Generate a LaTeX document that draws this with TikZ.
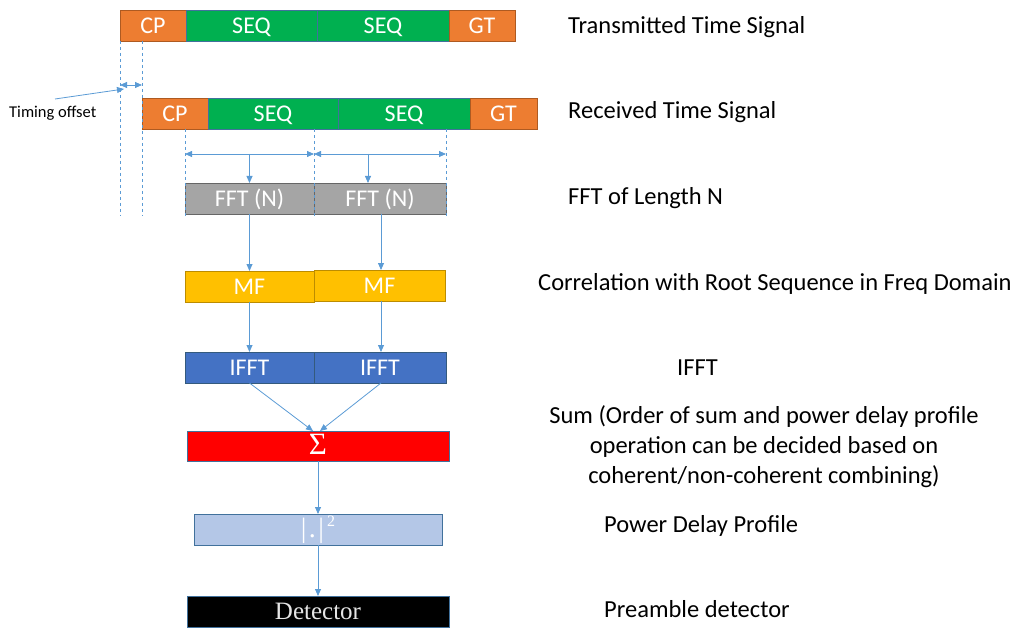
\documentclass[tikz,border=0pt]{standalone}
\usepackage{fontspec}
\setmainfont{Carlito}
\newfontfamily\serifdet{Liberation Serif}
\usetikzlibrary{arrows.meta}

\definecolor{cporange}{HTML}{ED7D31}
\definecolor{cpedge}{HTML}{AE5A21}
\definecolor{seqgreen}{HTML}{00B050}
\definecolor{fftgray}{HTML}{A5A5A5}
\definecolor{mfgold}{HTML}{FFC000}
\definecolor{mfedge}{HTML}{BC8C00}
\definecolor{ifftblue}{HTML}{4472C4}
\definecolor{pdpblue}{HTML}{B4C7E7}
\definecolor{boxedge}{HTML}{41719C}
\definecolor{linkblue}{HTML}{5B9BD5}

\tikzset{
  blk/.style={rectangle, anchor=north west, inner sep=0pt, outer sep=0pt,
    line width=0.8pt, draw=boxedge, text=white, font=\fontsize{24}{26}\selectfont,
    text height=15.5pt, text depth=0pt, minimum height=31pt},
  cpblk/.style={blk, fill=cporange, draw=cpedge},
  seqblk/.style={blk, fill=seqgreen},
  fftblk/.style={blk, fill=fftgray, draw=gray!80!black},
  mfblk/.style={blk, fill=mfgold, draw=mfedge},
  ifftblk/.style={blk, fill=ifftblue, draw=boxedge!80!black},
  tip/.style={Triangle[length=7pt,width=6pt]},
  link/.style={draw=linkblue, line width=0.8pt, -{Triangle[length=7pt,width=6pt]}},
  span/.style={draw=linkblue, line width=0.8pt, {Triangle[length=7pt,width=6pt]}-{Triangle[length=7pt,width=6pt]}},
  guide/.style={draw=linkblue, line width=0.7pt, dash pattern=on 3pt off 3pt},
  note/.style={anchor=west, inner sep=0pt, font=\fontsize{24.5}{30}\selectfont, text=black},
}

\begin{document}
\begin{tikzpicture}[x=1pt, y=-1pt]
\useasboundingbox (0,0) rectangle (1019,628);

% transmitted frame
\node[cpblk,  minimum width=66pt]  (tcp)   at (120,10) {CP};
\node[seqblk, minimum width=131pt] (tseq1) at (186,10) {SEQ};
\node[seqblk, minimum width=132pt] (tseq2) at (317,10) {SEQ};
\node[cpblk,  minimum width=66pt]  (tgt)   at (449,10) {GT};

% received frame
\node[cpblk,  minimum width=66pt]  (rcp)   at (142,98) {CP};
\node[seqblk, minimum width=130pt] (rseq1) at (208,98) {SEQ};
\node[seqblk, minimum width=132pt] (rseq2) at (338,98) {SEQ};
\node[cpblk,  minimum width=67pt]  (rgt)   at (470,98) {GT};

% FFT windows
\node[fftblk, minimum width=129pt] (fft1) at (185,183) {FFT (N)};
\node[fftblk, minimum width=132pt] (fft2) at (314,183) {FFT (N)};

% matched filters
\node[mfblk, minimum width=129pt] (mf1) at (185,271) {MF};
\node[mfblk, minimum width=131pt] (mf2) at (314,270) {MF};

% inverse FFT
\node[ifftblk, minimum width=129pt] (ifft1) at (185,352) {IFFT};
\node[ifftblk, minimum width=132pt] (ifft2) at (314,352) {IFFT};

% combining, power delay profile, detector
\node[blk, fill=red, minimum width=262pt, minimum height=30pt, font=\serifdet\fontsize{31}{32}\selectfont,
      text height=17pt] (sum) at (187,431) {Σ};
\node[blk, fill=pdpblue, minimum width=248pt, font=\serifdet\fontsize{28}{30}\selectfont,
      text height={}, text depth={}] (pdp) at (194,514)
  {|\kern2.5pt.\kern2.5pt|\kern3pt\raisebox{0.4em}{\fontsize{16}{16}\selectfont 2}};
\node[blk, fill=black, minimum width=262pt, font=\serifdet\fontsize{25}{26}\selectfont,
      text height=16.5pt, text=white!90!black] (det) at (187,596) {Detector};

% timing guides
\coordinate (g1a) at (120,41);  \coordinate (g1b) at (120,216);
\coordinate (g2a) at (142,41);  \coordinate (g2b) at (142,216);
\coordinate (g3a) at (185,129); \coordinate (g3b) at (185,218);
\coordinate (g4a) at (314,129); \coordinate (g4b) at (314,218);
\coordinate (g5a) at (446,129); \coordinate (g5b) at (446,218);
\foreach \g in {1,...,5} \draw[guide] (g\g a) -- (g\g b);

% timing offset
\coordinate (to1) at (120,85);
\coordinate (to2) at (142,85);
\draw[span] (to1) -- (to2);
\node[anchor=west, inner sep=0pt, font=\fontsize{16.5}{18}\selectfont] (tolabel) at (9,113) {Timing offset};
\coordinate (tostart) at (55,99);
\coordinate (toend) at (124,89);
\draw[link] (tostart) -- (toend);

% FFT window spans
\coordinate (w1) at (185,154);
\coordinate (w2) at (314,154);
\coordinate (w3) at (446,154);
\draw[span] (w1) -- (w2);
\draw[span] (w2) -- (w3);
\coordinate (w1m) at (249.5,154);
\coordinate (w2m) at (368,154);
\draw[link] (w1m) -- (w1m |- fft1.north);
\draw[link] (w2m) -- (w2m |- fft2.north);

% processing chain
\coordinate (c2) at (381,0);
\draw[link] (fft1.south) -- (mf1.north);
\draw[link] (c2 |- fft2.south) -- (c2 |- mf2.north);
\draw[link] (mf1.south) -- (ifft1.north);
\draw[link] (c2 |- mf2.south) -- (c2 |- ifft2.north);
\coordinate (s1) at (313,431);
\coordinate (s2) at (320,431);
\draw[link] (ifft1.south) -- (s1);
\draw[link] (c2 |- ifft2.south) -- (s2);
\draw[link] (sum.south) -- (pdp.north);
\draw[link] (pdp.south) -- (det.north);

% captions
\node[note] (l1) at (568,27) {Transmitted Time Signal};
\node[note] (l2) at (568,112) {Received Time Signal};
\node[note] (l3) at (568,198) {FFT of Length N};
\node[note] (l4) at (538,284) {Correlation with Root Sequence in Freq Domain};
\node[note] (l5) at (677,368) {IFFT};
\node[note, anchor=center, align=center] (l6) at (764,447)
  {Sum (Order of sum and power delay profile\\ operation can be decided based on\\ coherent/non-coherent combining)};
\node[note] (l7) at (604,526) {Power Delay Profile};
\node[note] (l8) at (604,609) {Preamble detector};
\end{tikzpicture}
\end{document}
